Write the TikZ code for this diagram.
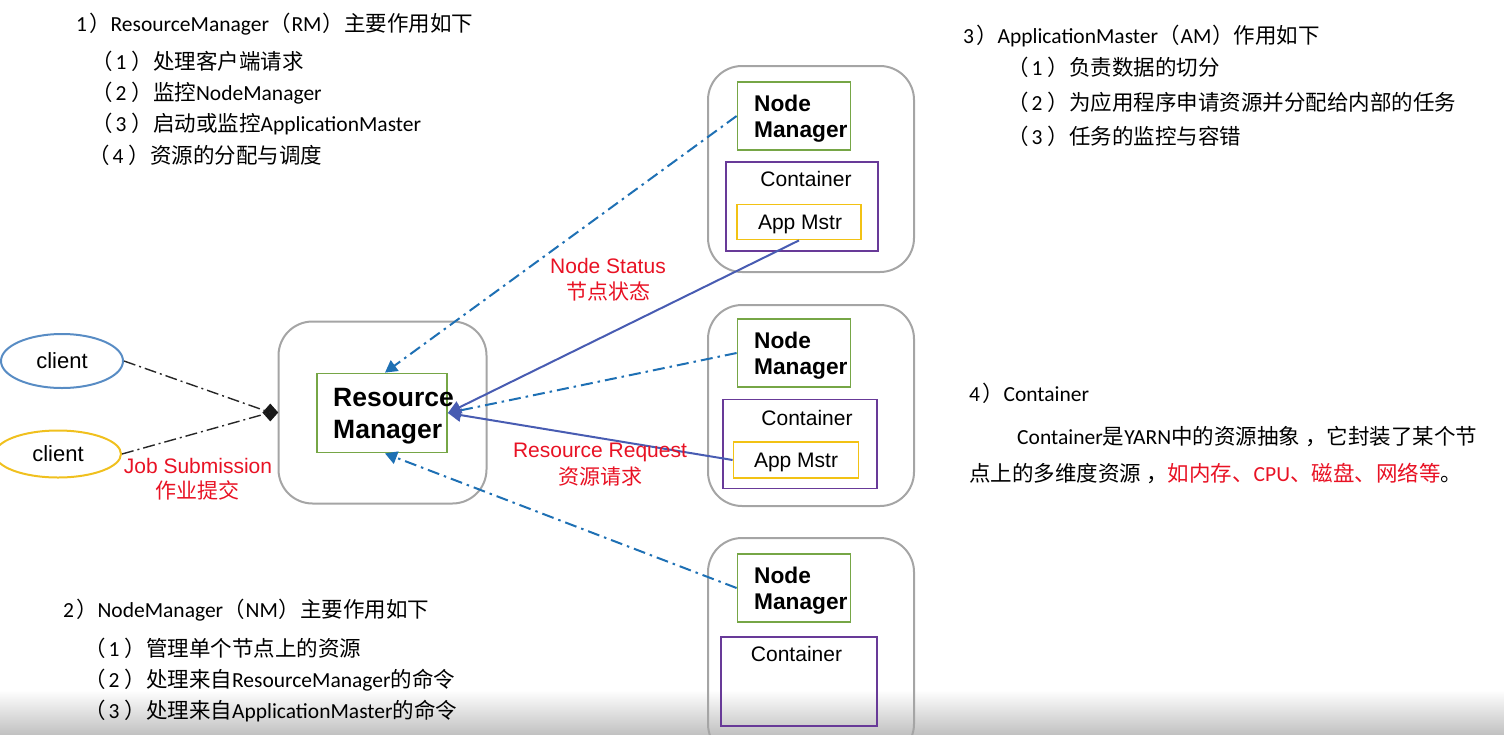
\documentclass[tikz,border=0pt]{standalone}
\usepackage{fontspec}
\setmainfont{Carlito}
\newfontfamily\cjk{Noto Sans CJK SC}
\newfontfamily\arialf{Liberation Sans}
\usetikzlibrary{arrows.meta,shapes.geometric}
\newcommand\zh[1]{{\cjk #1}}
\newcommand\pn[1]{{\cjk （}\kern3pt #1\kern5pt{\cjk ）}}
\newcommand\rp{\kern2pt{\cjk ）}}
\newcommand\pw[1]{{\cjk （}\kern1pt #1\kern1pt{\cjk ）}}
\newcommand\cm{\kern5pt{\cjk ，}}
\definecolor{nmgreen}{RGB}{118,166,70}
\definecolor{ctpurple}{RGB}{104,58,152}
\definecolor{amyellow}{RGB}{242,194,20}
\definecolor{outergray}{RGB}{165,165,165}
\definecolor{dashblue}{RGB}{30,112,180}
\definecolor{solidblue}{RGB}{72,92,178}
\definecolor{labelred}{RGB}{232,18,36}
\definecolor{clientblue}{RGB}{88,140,196}
\definecolor{clientyellow}{RGB}{240,192,30}
\tikzset{
  outerbox/.style={draw=outergray, line width=2pt, rounded corners=34pt, inner sep=0pt},
  greenbox/.style={draw=nmgreen, line width=1.8pt, inner sep=0pt},
  purplebox/.style={draw=ctpurple, line width=1.8pt, inner sep=0pt},
  yellowbox/.style={draw=amyellow, line width=1.8pt, inner sep=0pt},
  boldlabel/.style={inner sep=0pt, align=left, anchor=west, font=\arialf\bfseries\fontsize{22.7}{26}\selectfont},
  plainlabel/.style={inner sep=0pt, font=\arialf\fontsize{21}{25}\selectfont},
  redlabel/.style={inner sep=0pt, text=labelred, font=\arialf\fontsize{21}{25}\selectfont},
  redcjk/.style={inner sep=0pt, text=labelred, font=\cjk\fontsize{21}{25}\selectfont},
  listtext/.style={inner sep=0pt, anchor=base west, font=\fontsize{21.5}{25}\selectfont},
  clientshape/.style={ellipse, line width=2pt, inner sep=0pt, font=\arialf\fontsize{22}{26}\selectfont},
  joint/.style={diamond, fill=black!90, inner sep=0pt, minimum width=16pt, minimum height=18pt},
  dashdot/.style={line width=2pt, dash pattern=on 12pt off 5pt on 2.5pt off 5pt},
  bluedash/.style={dashdot, draw=dashblue, -{Triangle[length=12pt,width=13pt]}},
  solidarrow/.style={line width=2pt, draw=solidblue, -{Triangle[length=13pt,width=13pt]}},
  blackdash/.style={draw=black!85, line width=1.4pt, dash pattern=on 12pt off 4pt on 2pt off 4pt}
}
\begin{document}
\begin{tikzpicture}[x=1pt,y=-1pt]
\useasboundingbox (0,0) rectangle (1504,734);
\shade[top color=white, bottom color=black!24] (0,690) rectangle (1504,734);

% Resource manager
\node[outerbox, minimum width=208pt, minimum height=182pt] (rmout) at (382.5,412.5) {};
\node[greenbox, minimum width=130pt, minimum height=79pt] (rm) at (382,413) {};
\node[boldlabel, font=\arialf\bfseries\fontsize{26.5}{32}\selectfont] (rmt) at (333,416) {Resource\\Manager};
\node[joint, anchor=east] (dm) at ([xshift=1pt]rmout.west) {};

% clients
\node[clientshape, draw=clientblue, minimum width=122pt, minimum height=54pt] (c1) at (62,361) {client};
\node[clientshape, draw=clientyellow, minimum width=126pt, minimum height=47pt] (c2) at (58,454) {client};

% node manager 1
\node[outerbox, minimum width=206pt, minimum height=206pt] (nm1out) at (811,169) {};
\node[greenbox, minimum width=113pt, minimum height=68pt] (nm1) at (794,116) {};
\node[boldlabel] (nm1t) at (754,119) {Node\\Manager};
\node[purplebox, minimum width=152pt, minimum height=89pt] (ct1) at (802,206.5) {};
\node[plainlabel] (ct1t) at (806,179) {Container};
\node[yellowbox, minimum width=124pt, minimum height=35pt] (am1) at (799,222) {};
\node[plainlabel] (am1t) at (800,224) {App Mstr};

% node manager 2
\node[outerbox, minimum width=206pt, minimum height=201pt] (nm2out) at (811,405.5) {};
\node[greenbox, minimum width=113pt, minimum height=68pt] (nm2) at (794,353) {};
\node[boldlabel] (nm2t) at (754,356) {Node\\Manager};
\node[purplebox, minimum width=154pt, minimum height=89pt] (ct2) at (800,444) {};
\node[plainlabel] (ct2t) at (807,418) {Container};
\node[yellowbox, minimum width=125pt, minimum height=36pt] (am2) at (796,460) {};
\node[plainlabel] (am2t) at (796,462) {App Mstr};

% node manager 3
\node[outerbox, minimum width=206pt, minimum height=220pt] (nm3out) at (811,648) {};
\node[greenbox, minimum width=113pt, minimum height=68pt] (nm3) at (794,588) {};
\node[boldlabel] (nm3t) at (754,591) {Node\\Manager};
\node[purplebox, minimum width=156pt, minimum height=89pt] (ct3) at (799,681.5) {};
\node[plainlabel] (ct3t) at (796.5,654) {Container};

% connectors
\draw[blackdash] (c1.east) -- (dm.center);
\draw[blackdash] (c2.east) -- (dm.center);
\draw[bluedash] (nm1.west) -- ([xshift=3pt]rm.north);
\draw[bluedash] (nm2.west) -- (rm.east);
\draw[bluedash] (nm3.west) -- ([xshift=3pt]rm.south);
\draw[solidarrow] (am1.south) -- (rm.east);
\draw[solidarrow] (am2.west) -- (rm.east);

% labels
\node[redlabel] (ns) at (608,266) {Node Status};
\node[redcjk] (nsz) at (608,291) {节点状态};
\node[redlabel] (rr) at (600,452) {Resource Request};
\node[redcjk] (rrz) at (600,477) {资源请求};
\node[redlabel] (js) at (198,466) {Job Submission};
\node[redcjk] (jsz) at (197,490) {作业提交};

% text block 1
\node[listtext] (t1) at (76,31) {1\rp ResourceManager\pw{RM}\zh{主要作用如下}};
\node[listtext] (t11) at (91,69) {\pn{1}\zh{处理客户端请求}};
\node[listtext] (t12) at (91,100) {\pn{2}\zh{监控}NodeManager};
\node[listtext] (t13) at (91,131) {\pn{3}\zh{启动或监控}ApplicationMaster};
\node[listtext] (t14) at (88,163) {\pn{4}\zh{资源的分配与调度}};

% text block 3
\node[listtext] (t3) at (963,43) {3\rp ApplicationMaster\pw{AM}\zh{作用如下}};
\node[listtext] (t31) at (1007,75) {\pn{1}\zh{负责数据的切分}};
\node[listtext] (t32) at (1007,110) {\pn{2}\zh{为应用程序申请资源并分配给内部的任务}};
\node[listtext] (t33) at (1007,144) {\pn{3}\zh{任务的监控与容错}};

% text block 4
\node[listtext] (t4) at (969,401) {4\rp Container};
\node[listtext] (t41) at (1017,444) {Container\zh{是}YARN\zh{中的资源抽象}\cm\zh{它封装了某个节}};
\node[listtext] (t42) at (969,481) {\zh{点上的多维度资源}\cm\textcolor{labelred}{\zh{如内存、}CPU\zh{、磁盘、网络等}}\zh{。}};

% text block 2
\node[listtext] (t2) at (63,617) {2\rp NodeManager\pw{NM}\zh{主要作用如下}};
\node[listtext] (t21) at (84,656) {\pn{1}\zh{管理单个节点上的资源}};
\node[listtext] (t22) at (84,687) {\pn{2}\zh{处理来自}ResourceManager\zh{的命令}};
\node[listtext] (t23) at (84,718) {\pn{3}\zh{处理来自}ApplicationMaster\zh{的命令}};
\end{tikzpicture}
\end{document}
